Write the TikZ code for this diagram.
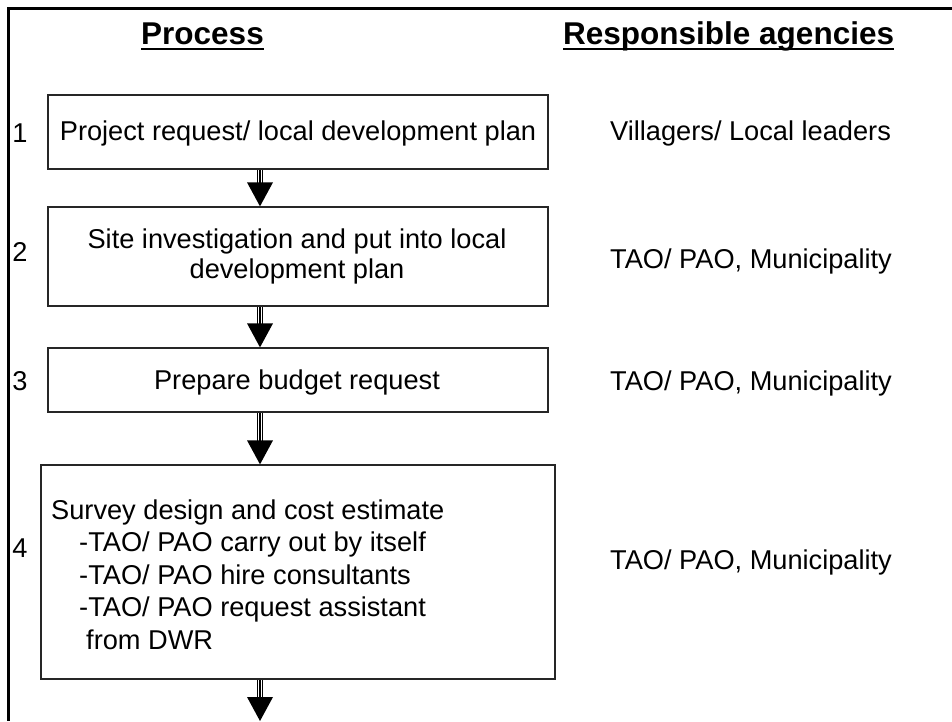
\documentclass[tikz,border=0pt]{standalone}
\usepackage{fontspec}
\setmainfont{Liberation Sans}
\usetikzlibrary{calc}
\tikzset{
  box/.style={draw=black!85, line width=1.3pt, inner sep=0pt, fill=white},
  txt/.style={font=\fontsize{27.2}{30}\selectfont, inner sep=0pt, anchor=base},
  ltxt/.style={txt, anchor=base west},
  hdr/.style={font=\fontsize{31.5}{36}\selectfont\bfseries, inner sep=0pt, anchor=base west},
  frame/.style={line width=3pt, black},
}
\newcommand\fatarr[2]{%
  \path (#1) coordinate (hs);
  \path (#2) coordinate (ht);
  \path (ht) ++(0,-24) coordinate (hb);
  \draw[black,line width=6.5pt] ($(hs)+(0,0.7)$) -- ($(hb)+(0,1)$);
  \draw[white,line width=4.2pt] ($(hs)+(0,0.8)$) -- ($(hb)+(0,1)$);
  \draw[black,line width=1.4pt] ($(hs)+(0,0.7)$) -- ($(hb)+(0,1)$);
  \fill[black] (ht) -- ($(hb)+(-13,0)$) -- ($(hb)+(13,0)$) -- cycle;
}
\begin{document}
\begin{tikzpicture}[x=1pt,y=-1pt]
\useasboundingbox (0,0) rectangle (952,721);
% frame
\draw[frame] (952,8.5) -- (8.5,8.5) -- (8.5,721);
% headers
\node[hdr] (hp) at (141,44) {Process};
\node[hdr] (hr) at (563,44) {Responsible agencies};
\draw[line width=2.6pt] ($(hp.base west)+(0,5)$) -- ($(hp.base east)+(0,5)$);
\draw[line width=2.6pt] ($(hr.base west)+(0,5)$) -- ($(hr.base east)+(0,5)$);
% boxes
\node[box, minimum width=500pt, minimum height=74pt] (b1) at (298,132) {};
\node[box, minimum width=500pt, minimum height=99pt] (b2) at (298,256.5) {};
\node[box, minimum width=500pt, minimum height=64pt] (b3) at (298,380) {};
\node[box, minimum width=514pt, minimum height=214pt] (b4) at (298,572) {};
% box texts
\node[txt] (t1) at (298,140) {Project request/ local development plan};
\node[txt] (t2a) at (297,248) {Site investigation and put into local};
\node[txt] (t2b) at (297,278) {development plan};
\node[txt] (t3) at (297,389) {Prepare budget request};
\node[ltxt] (t4a) at (51,519) {Survey design and cost estimate};
\node[ltxt] (t4b) at (79,551.5) {-TAO/ PAO carry out by itself};
\node[ltxt] (t4c) at (79,584) {-TAO/ PAO hire consultants};
\node[ltxt] (t4d) at (79,616.5) {-TAO/ PAO request assistant};
\node[ltxt] (t4e) at (86,649) {from DWR};
% step numbers
\node[txt] (n1) at (20,142) {1};
\node[txt] (n2) at (20,261) {2};
\node[txt] (n3) at (20,390) {3};
\node[txt] (n4) at (20,557) {4};
% agencies
\node[ltxt] (r1) at (610,140) {Villagers/ Local leaders};
\node[ltxt] (r2) at (610,268) {TAO/ PAO, Municipality};
\node[ltxt] (r3) at (610,390) {TAO/ PAO, Municipality};
\node[ltxt] (r4) at (610,569) {TAO/ PAO, Municipality};
% arrows
\coordinate (ax) at (260,0);
\coordinate (e4) at (260,721);
\fatarr{ax |- b1.south}{ax |- b2.north}
\fatarr{ax |- b2.south}{ax |- b3.north}
\fatarr{ax |- b3.south}{ax |- b4.north}
\fatarr{ax |- b4.south}{e4}
\end{tikzpicture}
\end{document}
